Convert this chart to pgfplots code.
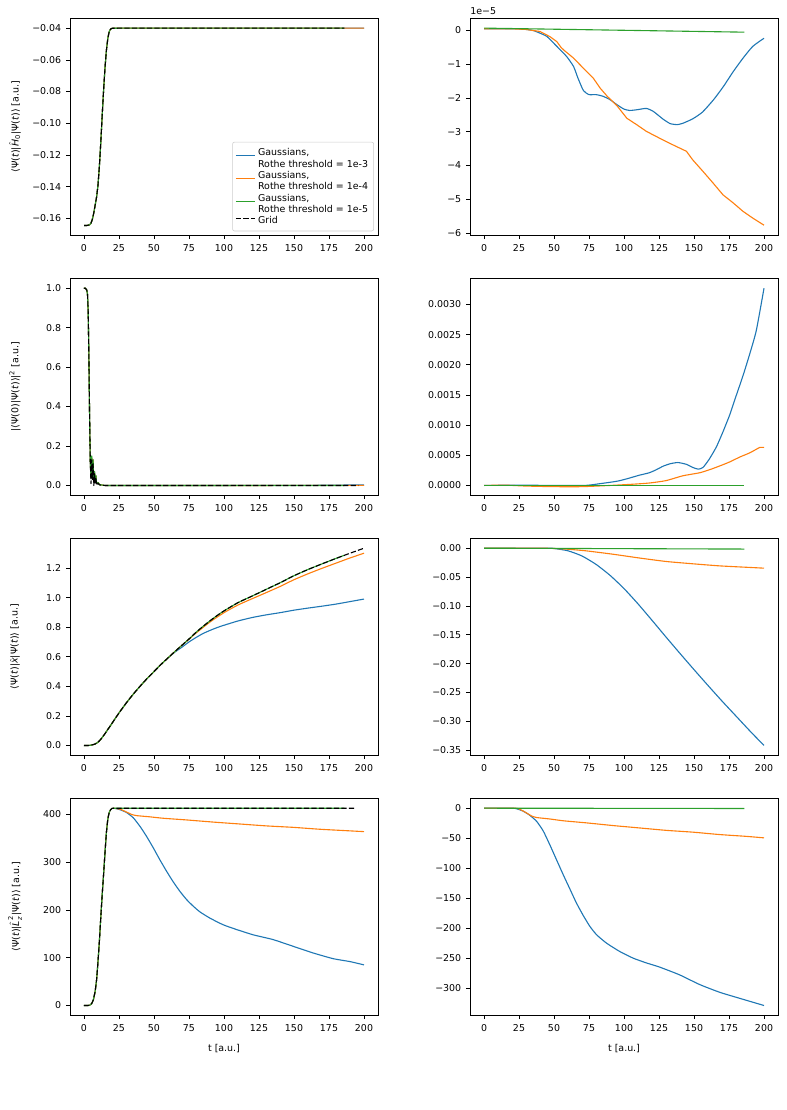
\documentclass[border=0pt]{standalone}
\usepackage{fontspec}
\setmainfont{DejaVu Sans}
\usepackage{pgfplots}
\pgfplotsset{compat=1.18}

\definecolor{c0}{HTML}{1F77B4}
\definecolor{c1}{HTML}{FF7F0E}
\definecolor{c2}{HTML}{2CA02C}

\newcommand{\fs}{\fontsize{6.8}{8.2}\selectfont}
\newcommand{\fss}{\fontsize{4.8}{5}\selectfont}
% italic DejaVu letters inside math
\newcommand{\itl}[1]{\mbox{\textit{#1}}}
\newcommand{\sm}[1]{\mbox{\fss #1}}

\pgfplotsset{
  panel/.style={
    scale only axis, width=221.76pt, height=156.24pt, anchor=north west,
    xmin=-10, xmax=210,
    xtick={0,25,50,75,100,125,150,175,200},
    xticklabels={0,25,50,75,100,125,150,175,200},
    scaled ticks=false,
    tick pos=left, tick align=outside, major tick length=2.8pt,
    tick style={black, line width=0.5pt},
    axis line style={line width=0.55pt},
    ticklabel style={font=\fs},
    every axis y label/.style={at={(axis description cs:-0.1786,0.5)}, rotate=90, anchor=center, font=\fs},
    every axis x label/.style={at={(axis description cs:0.5,-0.152)}, anchor=center, font=\fs},
    every axis plot/.append style={line width=0.8pt, line join=round, mark=none},
  },
  sA/.style={c0},
  sB/.style={c1},
  sC/.style={c2},
  sG/.style={black, dash pattern=on 3.8pt off 1.6pt},
  sm/.style={smooth, tension=0.35},
  % legend sample for two-line entries and for one-line entries
  twoline/.style={legend image code/.code={\draw[##1] plot coordinates {(0pt,0.1pt) (13.6pt,0.1pt)};}},
  oneline/.style={legend image code/.code={\draw[##1] plot coordinates {(0pt,1.8pt) (13.6pt,1.8pt)};}},
}

\begin{document}
\begin{tikzpicture}
\useasboundingbox (0,0) rectangle (565.92pt,-799.2pt);

% ---------------- row 1: energy ----------------
\begin{axis}[panel, at={(50.4pt,-13.2pt)},
  ymin=-0.1707, ymax=-0.0338,
  ytick={-0.16,-0.14,-0.12,-0.10,-0.08,-0.06,-0.04},
  yticklabels={−0.16,−0.14,−0.12,−0.10,−0.08,−0.06,−0.04},
  ylabel={⟨Ψ(\textit{t})|$\hat{\itl{H}}_{\sm{0}}$|Ψ(\textit{t})⟩ [a.u.]},
  legend cell align=left,
  legend style={at={(axis description cs:1,0)}, anchor=south east, xshift=-2.9pt, yshift=2.9pt,
    draw=black!20, rounded corners=1.5pt, fill=white, font=\fs, row sep=1pt, inner sep=2pt},
]
\addplot[sA, twoline] coordinates {(0,-0.1645) (2,-0.1645) (4,-0.1641) (5,-0.1630) (6,-0.1605) (7,-0.1565) (8,-0.1515) (9,-0.1465) (10,-0.1390) (11,-0.1270) (12,-0.1120) (13,-0.0950) (14,-0.0790) (15,-0.0650) (16,-0.0540) (17,-0.0465) (18,-0.0422) (19,-0.0406) (20,-0.0401) (25,-0.0400) (200,-0.0400)};
\addlegendentry{\begin{tabular}{@{}l@{}}Gaussians,\\Rothe threshold = 1e-3\end{tabular}}
\addplot[sB, twoline] coordinates {(0,-0.1645) (2,-0.1645) (4,-0.1641) (5,-0.1630) (6,-0.1605) (7,-0.1565) (8,-0.1515) (9,-0.1465) (10,-0.1390) (11,-0.1270) (12,-0.1120) (13,-0.0950) (14,-0.0790) (15,-0.0650) (16,-0.0540) (17,-0.0465) (18,-0.0422) (19,-0.0406) (20,-0.0401) (25,-0.0400) (200,-0.0400)};
\addlegendentry{\begin{tabular}{@{}l@{}}Gaussians,\\Rothe threshold = 1e-4\end{tabular}}
\addplot[sC, twoline] coordinates {(0,-0.1645) (2,-0.1645) (4,-0.1641) (5,-0.1630) (6,-0.1605) (7,-0.1565) (8,-0.1515) (9,-0.1465) (10,-0.1390) (11,-0.1270) (12,-0.1120) (13,-0.0950) (14,-0.0790) (15,-0.0650) (16,-0.0540) (17,-0.0465) (18,-0.0422) (19,-0.0406) (20,-0.0401) (25,-0.0400) (186,-0.0400)};
\addlegendentry{\begin{tabular}{@{}l@{}}Gaussians,\\Rothe threshold = 1e-5\end{tabular}}
\addplot[sG, oneline] coordinates {(0,-0.1645) (2,-0.1645) (4,-0.1641) (5,-0.1630) (6,-0.1605) (7,-0.1565) (8,-0.1515) (9,-0.1465) (10,-0.1390) (11,-0.1270) (12,-0.1120) (13,-0.0950) (14,-0.0790) (15,-0.0650) (16,-0.0540) (17,-0.0465) (18,-0.0422) (19,-0.0406) (20,-0.0401) (25,-0.0400) (186,-0.0400)};
\addlegendentry{Grid}
\end{axis}

\begin{axis}[panel, at={(338.4pt,-13.2pt)}, name=eright,
  ymin=-6.07, ymax=0.36,
  ytick={-6,-5,-4,-3,-2,-1,0},
  yticklabels={−6,−5,−4,−3,−2,−1,0},
]
\addplot[sA, sm] coordinates {(0,0.05) (10,0.05) (20,0.05) (28,0.04) (35,0.0) (40,-0.08) (45,-0.18) (52,-0.47) (59,-0.77) (64,-1.07) (67,-1.40) (71,-1.78) (75,-1.90) (80,-1.90) (85,-1.95) (90,-2.05) (95,-2.20) (100,-2.33) (104,-2.37) (109,-2.35) (116,-2.31) (121,-2.40) (128,-2.63) (133,-2.76) (138,-2.79) (142,-2.75) (149,-2.62) (156,-2.42) (164,-2.05) (171,-1.66) (178,-1.22) (185,-0.82) (192,-0.47) (200,-0.23)};
\addplot[sB] coordinates {(0,0.05) (20,0.05) (30,0.03) (40,-0.03) (47,-0.18) (52,-0.33) (55,-0.50) (57,-0.58) (64,-0.82) (71,-1.12) (78,-1.41) (83,-1.71) (88,-1.95) (95,-2.23) (102,-2.60) (109,-2.79) (116,-2.99) (123,-3.14) (130,-3.29) (137.5,-3.44) (144.6,-3.58) (149,-3.83) (156.5,-4.18) (163.6,-4.52) (170.7,-4.87) (178,-5.11) (185,-5.36) (192,-5.56) (200,-5.77)};
\addplot[sC] coordinates {(0,0.07) (93,0.01) (186,-0.05)};
\end{axis}
\node[anchor=south west, inner sep=0pt, font=\fs, yshift=2.5pt] at (eright.north west) {1e−5};

% ---------------- row 2: autocorrelation ----------------
\begin{axis}[panel, at={(50.4pt,-200.4pt)},
  ymin=-0.05, ymax=1.05,
  ytick={0,0.2,0.4,0.6,0.8,1.0},
  yticklabels={0.0,0.2,0.4,0.6,0.8,1.0},
  ylabel={|⟨Ψ(0)|Ψ(\textit{t})⟩|$^{\sm{2}}$ [a.u.]},
]
\addplot[sA] coordinates {(0,1.0) (1,1.0) (2,0.99) (2.5,0.97) (3,0.88) (3.5,0.65) (4,0.35) (4.5,0.12) (5,0.04) (5.5,0.14) (6,0.07) (6.5,0.13) (7,0.02) (7.5,0.07) (8,0.03) (8.5,0.05) (9,0.01) (10,0.015) (11,0.005) (13,0.002) (15,0.0) (75,0.0) (100,0.0001) (140,0.0004) (155,0.0003) (175,0.0012) (200,0.0033)};
\addplot[sB] coordinates {(0,1.0) (1,1.0) (2,0.99) (2.5,0.97) (3,0.88) (3.5,0.65) (4,0.35) (4.5,0.12) (5,0.04) (5.5,0.14) (6,0.07) (6.5,0.13) (7,0.02) (7.5,0.07) (8,0.03) (8.5,0.05) (9,0.01) (10,0.015) (11,0.005) (13,0.002) (15,0.0) (100,0.0) (150,0.0002) (200,0.0006)};
\addplot[sC] coordinates {(0,1.0) (1,1.0) (2,0.99) (2.5,0.97) (3,0.88) (3.5,0.65) (4,0.35) (4.5,0.12) (5,0.04) (5.5,0.15) (6,0.07) (6.5,0.13) (7,0.02) (7.5,0.07) (8,0.03) (8.5,0.05) (9,0.01) (10,0.015) (11,0.005) (13,0.002) (15,0.0) (186,0.0)};
\addplot[sG] coordinates {(0,1.0) (1,1.0) (2,0.99) (2.5,0.97) (3,0.88) (3.5,0.65) (4,0.35) (4.5,0.12) (5,0.01) (5.5,0.13) (6,0.03) (6.5,0.11) (7,0.0) (7.5,0.06) (8,0.01) (8.5,0.04) (9,0.0) (10,0.012) (11,0.003) (13,0.001) (15,0.0) (196,0.0)};
\end{axis}

\begin{axis}[panel, at={(338.4pt,-200.4pt)},
  ymin=-0.000164, ymax=0.003434,
  ytick={0,0.0005,0.001,0.0015,0.002,0.0025,0.003},
  yticklabels={0.0000,0.0005,0.0010,0.0015,0.0020,0.0025,0.0030},
]
\addplot[sA, sm] coordinates {(0,0) (25,0.000005) (50,0) (72,0) (83,0.00003) (95,0.00007) (102,0.00011) (111,0.00017) (118,0.00021) (123,0.00026) (128,0.00032) (133,0.00036) (138.5,0.00038) (144.6,0.00035) (149,0.00030) (153,0.00027) (156.5,0.00030) (161,0.00044) (166,0.00064) (170.7,0.00089) (175.5,0.00117) (180,0.00148) (185,0.00182) (189.8,0.00218) (194.5,0.00257) (200,0.00327)};
\addplot[sB, sm] coordinates {(0,0) (15,0.000005) (30,-0.00001) (50,-0.00002) (70,-0.00002) (90,0) (106,0.00002) (118,0.00004) (130,0.00008) (142,0.00016) (154,0.00021) (161,0.00026) (168,0.00032) (175.5,0.00039) (182.6,0.00047) (189.8,0.00054) (194.5,0.0006) (197,0.00063) (200,0.00063)};
\addplot[sC] coordinates {(0,0) (186,0)};
\end{axis}

% ---------------- row 3: position ----------------
\begin{axis}[panel, at={(50.4pt,-387.6pt)},
  ymin=-0.0667, ymax=1.4007,
  ytick={0,0.2,0.4,0.6,0.8,1.0,1.2},
  yticklabels={0.0,0.2,0.4,0.6,0.8,1.0,1.2},
  ylabel={⟨Ψ(\textit{t})|$\hat{\itl{x}}$|Ψ(\textit{t})⟩ [a.u.]},
]
\addplot[sA, sm] coordinates {(0,0) (3,0) (5,0.002) (8,0.01) (10,0.022) (12,0.042) (15,0.08) (20,0.15) (25,0.22) (30,0.285) (35,0.345) (40,0.40) (45,0.452) (50,0.50) (55,0.548) (60,0.592) (65,0.632) (70,0.665) (75,0.70) (80,0.73) (85,0.757) (90,0.778) (95,0.797) (100,0.813) (110,0.842) (120,0.865) (130,0.883) (140,0.898) (150,0.915) (160,0.929) (170,0.942) (180,0.956) (190,0.973) (200,0.99)};
\addplot[sB, sm] coordinates {(0,0) (3,0) (5,0.002) (8,0.01) (10,0.022) (12,0.042) (15,0.08) (20,0.15) (25,0.22) (30,0.285) (35,0.345) (40,0.40) (45,0.452) (50,0.50) (55,0.548) (60,0.592) (65,0.636) (70,0.678) (75,0.718) (80,0.760) (90,0.835) (100,0.898) (110,0.950) (120,0.992) (130,1.033) (140,1.075) (150,1.121) (160,1.161) (170,1.198) (180,1.233) (190,1.268) (200,1.300)};
\addplot[sC, sm] coordinates {(0,0) (3,0) (5,0.002) (8,0.01) (10,0.022) (12,0.042) (15,0.08) (20,0.15) (25,0.22) (30,0.285) (35,0.345) (40,0.40) (45,0.452) (50,0.50) (55,0.548) (60,0.592) (65,0.636) (70,0.678) (75,0.72) (80,0.765) (85,0.805) (90,0.843) (95,0.878) (100,0.91) (110,0.966) (120,1.01) (130,1.055) (140,1.10) (150,1.148) (160,1.19) (170,1.228) (180,1.265) (186,1.286)};
\addplot[sG, sm] coordinates {(0,0) (3,0) (5,0.002) (8,0.01) (10,0.022) (12,0.042) (15,0.08) (20,0.15) (25,0.22) (30,0.285) (35,0.345) (40,0.40) (45,0.452) (50,0.50) (55,0.548) (60,0.592) (65,0.636) (70,0.678) (75,0.72) (80,0.765) (85,0.805) (90,0.843) (95,0.878) (100,0.91) (110,0.966) (120,1.01) (130,1.055) (140,1.10) (150,1.148) (160,1.19) (170,1.228) (180,1.265) (190,1.30) (200,1.334)};
\end{axis}

\begin{axis}[panel, at={(338.4pt,-387.6pt)},
  ymin=-0.3591, ymax=0.0171,
  ytick={-0.35,-0.30,-0.25,-0.20,-0.15,-0.10,-0.05,0},
  yticklabels={−0.35,−0.30,−0.25,−0.20,−0.15,−0.10,−0.05,0.00},
]
\addplot[sA, sm] coordinates {(0,0) (45,0) (50,-0.0005) (60,-0.0045) (70,-0.0135) (80,-0.028) (90,-0.047) (100,-0.070) (110,-0.0965) (120,-0.125) (130,-0.154) (140,-0.1825) (150,-0.2105) (160,-0.238) (170,-0.265) (180,-0.291) (190,-0.317) (200,-0.342)};
\addplot[sB, sm] coordinates {(0,0) (40,0) (50,-0.0005) (60,-0.0018) (73,-0.0046) (92,-0.0104) (111,-0.017) (130,-0.023) (149,-0.027) (168,-0.0306) (187,-0.033) (200,-0.0346)};
\addplot[sC] coordinates {(0,0) (100,-0.0008) (186,-0.0015)};
\end{axis}

% ---------------- row 4: angular momentum ----------------
\begin{axis}[panel, at={(50.4pt,-574.8pt)},
  ymin=-20.65, ymax=433.7,
  ytick={0,100,200,300,400},
  yticklabels={0,100,200,300,400},
  ylabel={⟨Ψ(\textit{t})|$\hat{\itl{L}}^{\sm{2}}_{\sm{\textit{z}}}$|Ψ(\textit{t})⟩ [a.u.]},
  xlabel={t [a.u.]},
]
\addplot[sA, sm] coordinates {(0,0) (3,0) (4.3,1) (5.5,4) (6.7,12) (8,30) (9,54) (10,92) (11,135) (12,185) (13,232) (14,275) (15,320) (16,362) (17,390) (18,404) (19,410) (20,412.5) (21,413) (23,412) (25.7,410) (30.4,404) (35.2,393) (40,375) (44.7,354) (49.5,330) (54.2,305) (59,281) (63.7,259) (68.5,239) (73.2,222) (78,208) (82.8,196) (89.9,183) (99.4,169) (109,159) (120.8,148) (135,138) (149.3,124) (163.6,110) (178,98) (189.8,92) (200,85)};
\addplot[sB, sm] coordinates {(0,0) (3,0) (4.3,1) (5.5,4) (6.7,12) (8,30) (9,54) (10,92) (11,135) (12,185) (13,232) (14,275) (15,320) (16,362) (17,390) (18,404) (19,410) (20,412.5) (21,413) (25.7,411) (30.4,405) (34,400) (37.6,397.5) (47,395) (56.6,392) (73.2,388.5) (92.3,384) (111.3,380) (130.3,376) (149.3,373) (168.4,369) (187.4,366) (200,364)};
\addplot[sC] coordinates {(0,0) (3,0) (4.3,1) (5.5,4) (6.7,12) (8,30) (9,54) (10,92) (11,135) (12,185) (13,232) (14,275) (15,320) (16,362) (17,390) (18,404) (19,410) (20,412.5) (21,413) (186,413)};
\addplot[sG] coordinates {(0,0) (3,0) (4.3,1) (5.5,4) (6.7,12) (8,30) (9,54) (10,92) (11,135) (12,185) (13,232) (14,275) (15,320) (16,362) (17,390) (18,404) (19,410) (20,412.5) (21,413) (194,413)};
\end{axis}

\begin{axis}[panel, at={(338.4pt,-574.8pt)},
  ymin=-345.4, ymax=16.4,
  ytick={-300,-250,-200,-150,-100,-50,0},
  yticklabels={−300,−250,−200,−150,−100,−50,0},
  xlabel={t [a.u.]},
]
\addplot[sA, sm] coordinates {(0,0) (20,0) (23.3,-1) (28,-5) (32.8,-12) (37.6,-22) (42.3,-38) (47,-61) (51.8,-86) (56.6,-111) (61.4,-135) (66,-158) (70.9,-179) (75.6,-197) (80.4,-211) (87.5,-225) (97,-239) (106.5,-250) (116,-258) (125.5,-265) (139.8,-278) (154,-294) (168.4,-307) (182.6,-317) (200,-329)};
\addplot[sB, sm] coordinates {(0,0) (22,0) (25.7,-2) (30.4,-8) (34,-13) (37.6,-15.6) (47,-18) (56.6,-21) (73.2,-24.5) (92.3,-29) (111.3,-33) (130.3,-37) (149.3,-40) (168.4,-44) (187.4,-47) (200,-49.5)};
\addplot[sC] coordinates {(0,0) (186,-0.5)};
\end{axis}
\end{tikzpicture}
\end{document}
